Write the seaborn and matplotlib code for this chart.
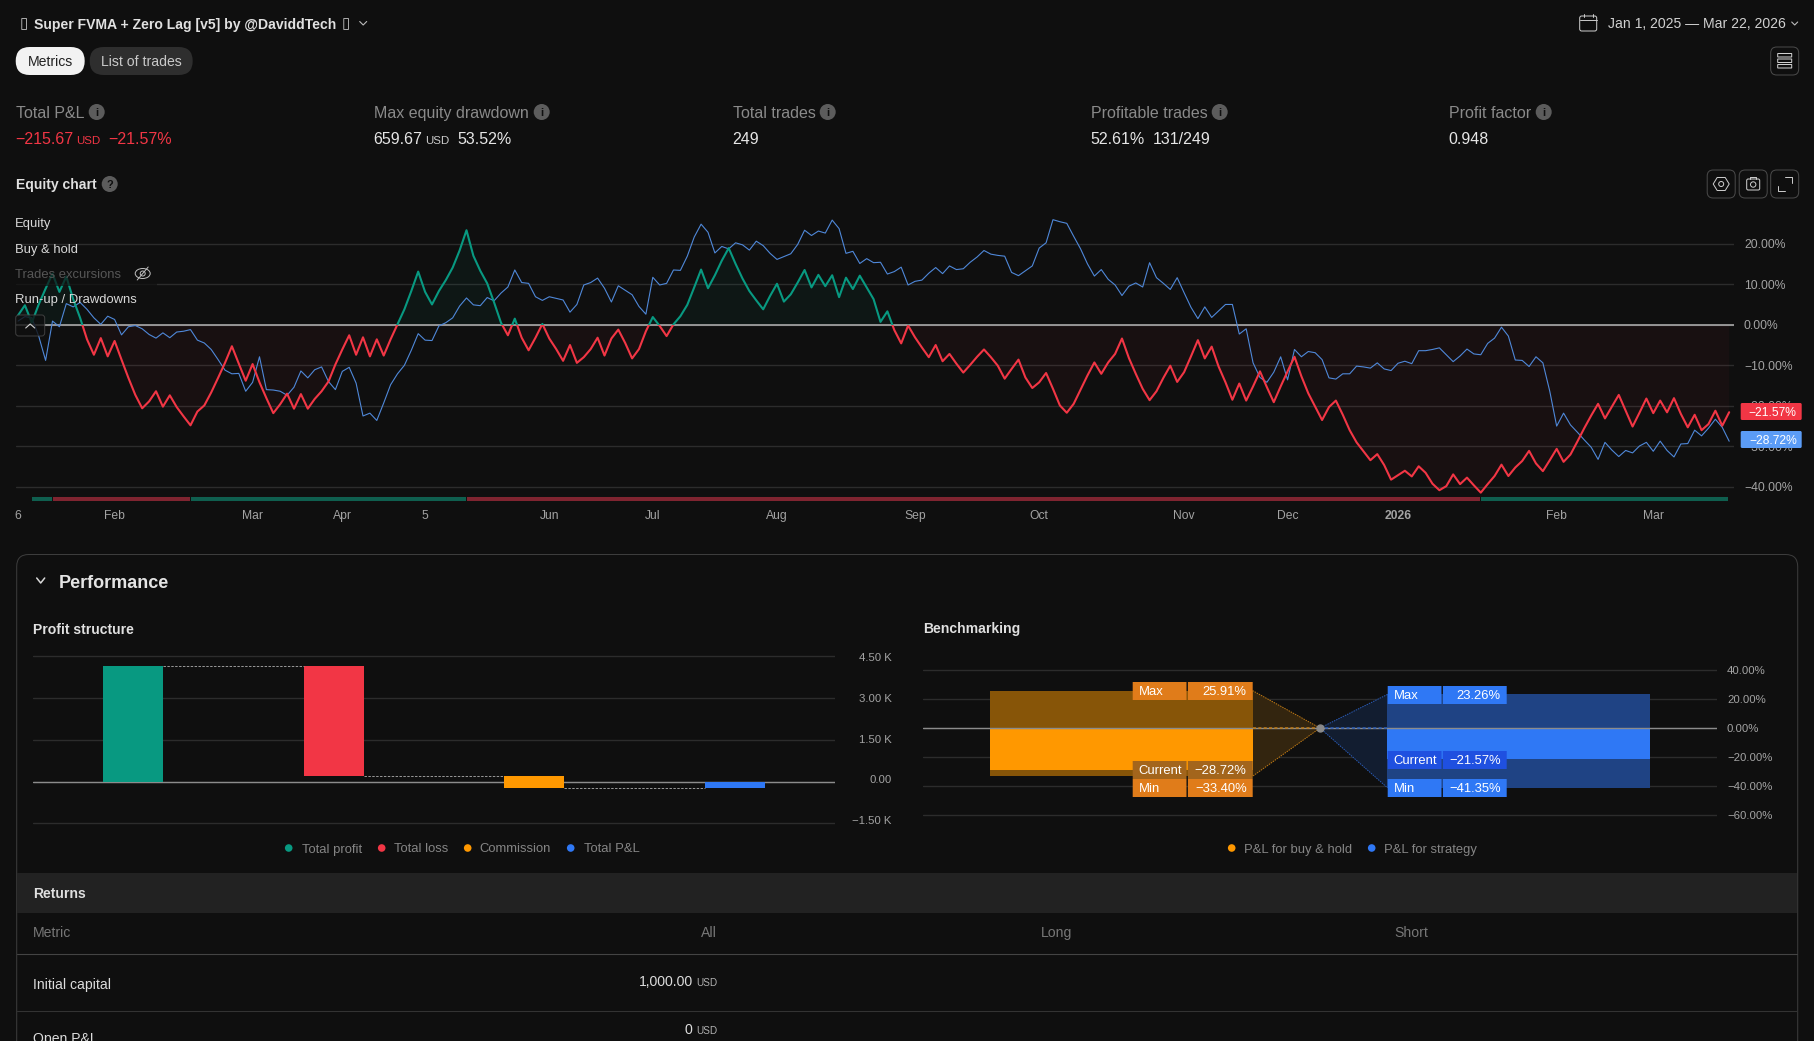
import matplotlib
matplotlib.use("Agg")
import matplotlib.pyplot as plt
from matplotlib.patches import Circle, Ellipse, FancyBboxPatch, Polygon, Rectangle
from matplotlib.transforms import ScaledTranslation
import numpy as np
import seaborn as sns

W, H = 1815, 1041
BG = "#0f0f0f"
RED = "#f23645"
GREEN = "#089981"
ORANGE = "#ff9800"
BLUE = "#2f78f5"
GRID = "#2c2c2c"
DIM = "#a3a3a3"

# equity chart, one value per closed trade (% of initial capital)
equity = [
    2.3, 4.8, 0.5, 5.0, 8.9, 12.6, 8.1, 11.9, 6.3, 1.7,
    -3.6, -7.4, -3.3, -7.8, -4.0, -8.6, -13.1, -17.3, -20.6, -18.9,
    -16.4, -20.2, -17.4, -20.3, -22.6, -24.8, -21.4, -19.9, -16.7, -13.1,
    -9.4, -5.3, -9.6, -13.8, -9.7, -14.2, -18.1, -21.8, -19.6, -17.0,
    -20.7, -17.1, -20.7, -18.3, -16.4, -14.0, -9.8, -6.1, -2.6, -7.4,
    -3.1, -7.8, -3.6, -7.6, -3.6, 0.1, 3.8, 8.3, 13.1, 8.1,
    5.0, 8.3, 11.0, 14.1, 18.3, 23.3, 17.0, 13.3, 10.2, 5.5,
    0.5, -2.6, 1.5, -3.2, -6.3, -3.2, 0.2, -3.4, -6.0, -8.9,
    -5.0, -9.4, -8.0, -6.0, -3.2, -7.6, -3.4, -1.2, -4.5, -8.3,
    -6.0, -1.6, 1.9, -0.3, -2.8, 0.1, 2.1, 4.9, 9.2, 13.6,
    9.0, 12.2, 15.8, 18.9, 15.0, 11.4, 8.3, 6.0, 3.8, 7.1,
    10.1, 5.7, 7.5, 10.4, 13.5, 9.2, 12.3, 9.5, 12.2, 6.8,
    11.6, 8.8, 12.1, 9.2, 6.3, 0.7, 3.3, -1.3, -4.6, -0.2,
    -3.1, -5.6, -8.0, -5.0, -9.0, -7.2, -9.6, -11.8, -9.9, -7.9,
    -6.1, -8.0, -10.1, -13.3, -10.9, -8.6, -13.0, -15.6, -14.2, -11.9,
    -15.8, -19.9, -21.7, -19.5, -16.0, -12.5, -9.3, -12.1, -9.3, -7.2,
    -3.4, -8.2, -12.1, -15.8, -18.6, -16.4, -13.1, -10.1, -14.1, -11.7,
    -7.8, -3.8, -8.3, -5.4, -10.3, -14.2, -18.5, -14.5, -18.7, -15.2,
    -11.5, -15.4, -19.1, -15.2, -11.5, -7.9, -12.7, -16.9, -20.2, -23.5,
    -20.3, -18.7, -22.2, -26.0, -29.0, -31.2, -33.4, -31.9, -34.6, -38.2,
    -37.1, -36.0, -37.4, -34.9, -36.5, -39.2, -40.8, -39.8, -36.9, -39.3,
    -37.7, -39.6, -41.4, -39.3, -37.3, -34.5, -37.3, -35.2, -33.6, -31.1,
    -34.2, -36.1, -33.4, -30.6, -33.8, -32.0, -28.8, -25.5, -22.4, -19.5,
    -23.1, -20.2, -17.3, -21.2, -25.1, -21.7, -18.2, -21.8, -18.7, -21.6,
    -18.1, -22.0, -25.3, -22.2, -26.0, -24.5, -21.2, -24.9, -21.57,
]
buy_hold = [
    0.9, 2.0, 1.7, -2.8, -8.8, 0.9, -0.5, 5.2, 4.4, 5.5,
    3.8, 1.7, 0.1, 2.1, 1.3, -2.5, -0.5, -0.2, -1.0, -2.4,
    -3.3, -2.0, -3.2, -1.8, -1.6, -1.2, -3.8, -4.5, -6.1, -8.6,
    -11.2, -12.1, -12.0, -16.4, -14.2, -7.9, -16.0, -16.1, -16.4, -17.4,
    -15.4, -11.4, -13.1, -11.1, -10.4, -14.0, -16.0, -11.5, -10.5, -14.4,
    -22.5, -21.8, -23.6, -19.3, -14.8, -12.1, -10.0, -6.3, -2.2, -3.8,
    -3.9, -0.3, 0.5, 1.7, 4.6, 6.6, 4.9, 4.7, 6.7, 5.9,
    7.8, 9.3, 13.5, 10.4, 10.2, 6.9, 6.0, 6.9, 6.5, 6.1,
    3.1, 5.0, 9.8, 10.4, 11.5, 9.0, 5.6, 9.6, 8.5, 7.4,
    4.5, 2.6, 11.7, 9.8, 10.2, 13.5, 13.4, 16.9, 21.6, 24.8,
    22.8, 17.7, 19.3, 18.7, 20.2, 19.7, 18.4, 20.6, 19.5, 17.6,
    16.1, 16.8, 17.5, 19.8, 23.3, 22.0, 23.1, 22.6, 25.8, 23.7,
    17.6, 18.1, 15.1, 16.3, 15.3, 15.4, 12.5, 13.1, 14.2, 9.8,
    10.7, 11.0, 12.7, 14.1, 12.6, 14.5, 13.6, 13.8, 15.4, 16.7,
    18.3, 17.4, 17.1, 16.9, 12.9, 12.1, 13.3, 14.5, 18.9, 20.2,
    25.9, 25.4, 25.0, 21.8, 18.7, 15.0, 12.0, 13.6, 11.2, 9.8,
    7.2, 9.5, 10.3, 9.3, 15.3, 11.6, 10.2, 8.7, 11.6, 7.9,
    4.3, 1.5, 4.4, 1.8, 3.4, 5.0, 5.0, -2.3, -1.0, -9.4,
    -13.0, -14.2, -11.7, -7.9, -13.6, -6.1, -7.9, -6.6, -6.9, -8.6,
    -13.1, -13.4, -12.1, -12.1, -10.2, -10.4, -10.7, -9.4, -10.9, -11.3,
    -9.5, -9.0, -9.6, -6.4, -6.4, -6.1, -5.7, -7.4, -9.1, -7.7,
    -6.0, -7.2, -7.4, -4.6, -3.3, -0.6, -2.8, -8.7, -8.8, -10.3,
    -7.9, -9.4, -16.4, -25.0, -21.8, -24.7, -26.5, -28.4, -30.2, -33.2,
    -29.0, -30.9, -32.5, -31.0, -31.6, -29.9, -29.0, -31.2, -28.7, -31.0,
    -32.6, -29.4, -29.3, -26.0, -27.4, -25.5, -23.3, -25.3, -28.72,
]
trade_idx = np.arange(len(equity))
month_idx = [0, 14, 34, 47, 59, 77, 92, 110, 130, 148, 169, 184, 200, 223, 237]
month_labels = ["6", "Feb", "Mar", "Apr", "5", "Jun", "Jul", "Aug", "Sep", "Oct",
                "Nov", "Dec", "2026", "Feb", "Mar"]
equity_ticks = [20, 10, 0, -10, -20, -30, -40]
equity_ticklabels = ["20.00%", "10.00%", "0.00%", "−10.00%", "−20.00%", "−30.00%", "−40.00%"]
# trade numbers where the run-up / drawdown strip changes
run_edges = [2, 5, 25, 65, 212, 248]
run_up = [True, False, True, False, True]

# profit structure
profit_names = ["Total profit", "Total loss", "Commission", "Total P&L"]
profit_heights = [4143, -3927.67, -431.34, -215.67]
profit_bottoms = [0, 4143, 215.33, 0]
profit_ticks = [4500, 3000, 1500, 0, -1500]
profit_ticklabels = ["4.50 K", "3.00 K", "1.50 K", "0.00", "−1.50 K"]

# benchmarking
bench_names = ["P&L for buy & hold", "P&L for strategy"]
bench_max = [25.91, 23.26]
bench_min = [-33.40, -41.35]
bench_current = [-28.72, -21.57]
bench_ticks = [40, 20, 0, -20, -40, -60]
bench_ticklabels = ["40.00%", "20.00%", "0.00%", "−20.00%", "−40.00%", "−60.00%"]

sns.set_theme(style="dark", rc={"figure.facecolor": BG, "axes.facecolor": BG,
                                "axes.edgecolor": BG, "savefig.facecolor": BG})
plt.rcParams["font.family"] = ["Liberation Sans", "DejaVu Sans"]


def axes_px(left, top, right, bottom):
    ax = fig.add_axes([left / W, 1 - bottom / H, (right - left) / W, (bottom - top) / H])
    sns.despine(ax=ax, left=True, bottom=True)
    return ax


def label(x, y, s, px=13, color="#d8d8d8", weight="normal", ha="left", **kw):
    ui.text(x, y, s, fontsize=px * 0.72, color=color, fontweight=weight, ha=ha,
            va="center_baseline", **kw)


def box(left, top, right, bottom, radius=0, face="none", edge="none", lw=1.0, **kw):
    ui.add_patch(FancyBboxPatch((left, top), right - left, bottom - top,
                                boxstyle=f"round,pad=0,rounding_size={radius}",
                                fc=face, ec=edge, lw=lw * 0.72, **kw))


def info(x, y, s="i", r=8):
    ui.add_patch(Circle((x, y), r, fc="#5c5c5c", ec="none"))
    label(x, y, s, px=11, color=BG, weight="bold", ha="center")


fig = plt.figure(figsize=(W / 100, H / 100), dpi=100)

# ---- equity chart
ax_eq = axes_px(16, 199, 1734, 504)
x_eq = np.array(trade_idx)
y_eq = np.array(equity)
ax_eq.set_yticks(equity_ticks, equity_ticklabels)
ax_eq.set_xticks(month_idx, month_labels)
ax_eq.yaxis.tick_right()
ax_eq.grid(axis="y", color=GRID, lw=1.0)
ax_eq.grid(axis="x", visible=False)
ax_eq.axhline(0, color="#b5b5b5", lw=1.1, zorder=1.5)
ax_eq.fill_between(x_eq, y_eq, 0, where=y_eq >= 0, interpolate=True, color=GREEN, alpha=0.06, lw=0)
ax_eq.fill_between(x_eq, y_eq, 0, where=y_eq <= 0, interpolate=True, color=RED, alpha=0.045, lw=0)

sns.lineplot(x=trade_idx, y=buy_hold, color="#4f88d9", linewidth=0.8, ax=ax_eq, zorder=3)
for col, clip_box in ((GREEN, (0, 60)), (RED, (-60, 60))):
    sns.lineplot(x=trade_idx, y=equity, color=col, linewidth=1.5, ax=ax_eq, zorder=4)
    ax_eq.lines[-1].set_clip_path(Rectangle((-10, clip_box[0]), 300, clip_box[1],
                                            transform=ax_eq.transData))
ax_eq.set_xlim(-0.29, 248.7)
ax_eq.set_ylim(-44.2, 31.0)
for a, b, up in zip(run_edges[:-1], run_edges[1:], run_up):
    ax_eq.hlines(-42.9, a + 0.1, b - 0.1, color="#0f5f4f" if up else "#7f2430", lw=2.9,
                 capstyle="butt")
ax_eq.tick_params(axis="y", length=0, pad=7.2, labelsize=8.7, labelcolor=DIM)
ax_eq.tick_params(axis="x", length=0, pad=4.5, labelsize=8.7, labelcolor=DIM)
for t in ax_eq.get_xticklabels():
    if t.get_text() == "2026":
        t.set_fontweight("bold")

# ---- profit structure
ax_p = axes_px(33, 649.3, 835, 829.3)
sns.barplot(x=profit_names, y=profit_heights, bottom=profit_bottoms, width=0.3, color=GREEN,
            saturation=1, linewidth=0, ax=ax_p, zorder=3)
for patch, col in zip(ax_p.patches, (GREEN, RED, ORANGE, BLUE)):
    patch.set_facecolor(col)
    patch.set_edgecolor("none")
ax_p.set_xlim(-0.5, 3.5)
ax_p.set_ylim(-1714, 4753)
ax_p.set_xlabel("")
ax_p.set_ylabel("")
ax_p.set_xticks([])
ax_p.set_yticks(profit_ticks, profit_ticklabels)
ax_p.yaxis.tick_right()
ax_p.grid(axis="y", color=GRID, lw=1.0)
ax_p.axhline(0, color="#8c8c8c", lw=1.0, zorder=2)
ax_p.tick_params(axis="y", length=0, pad=40.7, labelsize=8.2, labelcolor=DIM)
# the labels of this axis sit a little off their gridlines in the reference
for t, nudge in zip(ax_p.get_yticklabels(), (-1, 0, 1, 2.5, 3.5)):
    t.set_ha("right")
    t.set_transform(t.get_transform() + ScaledTranslation(0, nudge / 100, fig.dpi_scale_trans))
for i, level in enumerate([profit_heights[0], profit_bottoms[2], profit_heights[3]]):
    ax_p.hlines(level, i + 0.15, i + 0.85, color="#9a9a9a", lw=0.7, linestyles=(0, (2.5, 1.5)),
                zorder=4)

# ---- benchmarking
ax_b = axes_px(923, 664, 1717, 824)
bench_span = [hi - lo for hi, lo in zip(bench_max, bench_min)]
sns.barplot(x=bench_names, y=bench_span, bottom=bench_min, width=0.66, color=ORANGE,
            saturation=1, linewidth=0, ax=ax_b, zorder=3)
for patch, col in zip(ax_b.patches, ("#875508", "#1f4384")):
    patch.set_facecolor(col)
    patch.set_edgecolor("none")
sns.barplot(x=bench_names, y=bench_current, width=0.66, color=ORANGE, saturation=1, linewidth=0,
            ax=ax_b, zorder=3)
for patch, col in zip(ax_b.patches[2:], (ORANGE, BLUE)):
    patch.set_facecolor(col)
    patch.set_edgecolor("none")
ax_b.set_xlim(-0.5, 1.5)
ax_b.set_ylim(-66.4, 44.3)
ax_b.set_xlabel("")
ax_b.set_ylabel("")
ax_b.set_xticks([])
ax_b.set_yticks(bench_ticks, bench_ticklabels)
ax_b.yaxis.tick_right()
ax_b.grid(axis="y", color=GRID, lw=1.0)
ax_b.axhline(0, color="#8c8c8c", lw=1.0, zorder=3.5)
ax_b.tick_params(axis="y", length=0, pad=7.2, labelsize=8.2, labelcolor=DIM)
for edge_x, hi, lo, col, fill in ((0.33, bench_max[0], bench_min[0], "#c07a14", "#33250f"),
                                  (0.67, bench_max[1], bench_min[1], "#2a5cb8", "#121d30")):
    ax_b.add_patch(Polygon([(edge_x, hi), (0.5, 0), (edge_x, lo)], fc=fill, ec="none", zorder=2.5))
    ax_b.plot([edge_x, 0.5, edge_x], [hi, 0, lo], color=col, lw=0.7, ls=(0, (1.5, 1)), zorder=4)
    ax_b.plot([edge_x, 0.5], [0, 0], color=col, lw=1.1, ls=(0, (2, 1.5)), zorder=4)
ax_b.plot([0.5], [0], "o", ms=5, color="#8a8a8a", zorder=5)

# ---- page furniture in pixel coordinates, on top of the charts
ui = fig.add_axes([0, 0, 1, 1], zorder=5)
ui.set_xlim(0.3, W + 0.3)
ui.set_ylim(H + 1, 1)
ui.axis("off")

label(20, 24, "\u25af", px=15, color="#c8c8c8")
label(34, 24, "Super FVMA + Zero Lag [v5] by @DaviddTech", px=14, color="#e0e0e0", weight="bold")
label(342, 24, "\u25af", px=15, color="#c8c8c8")
ui.plot([360, 363.5, 367], [22.5, 26, 22.5], color="#bbbbbb", lw=0.8)

box(16, 48, 85, 76, radius=14, face="#f2f2f2")
label(50.5, 62, "Metrics", px=14, color="#222222", ha="center")
box(90, 48, 193, 76, radius=14, face="#2e2e2e")
label(141.5, 62, "List of trades", px=14, color="#c9c9c9", ha="center")

for x, name, ix in ((16, "Total P&L", 97), (374, "Max equity drawdown", 542), (733, "Total trades", 828),
                    (1091, "Profitable trades", 1220), (1449, "Profit factor", 1544)):
    label(x, 113, name, px=16, color="#8a8a8a")
    info(ix, 113, "i")
label(16, 139, "−215.67", px=16, color=RED)
label(76, 141, "USD", px=11.5, color=RED)
label(109, 139, "−21.57%", px=16, color=RED)
label(374, 139, "659.67", px=16, color="#e6e6e6")
label(425, 141, "USD", px=11.5, color="#cccccc")
label(457.5, 139, "53.52%", px=16, color="#e6e6e6")
label(733, 139, "249", px=16, color="#e6e6e6")
label(1091, 139, "52.61%", px=16, color="#e6e6e6")
label(1153, 139, "131/249", px=16, color="#e6e6e6")
label(1449, 139, "0.948", px=16, color="#e6e6e6")

label(16, 185, "Equity chart", px=14, color="#e0e0e0", weight="bold")
info(110, 185, "?")

# date picker and toolbar icons
box(1580, 17, 1597, 32, radius=2, edge="#cccccc")
ui.plot([1580, 1597], [20.5, 20.5], color="#cccccc", lw=0.7)
ui.plot([1584, 1584], [15, 18], color="#cccccc", lw=0.7)
ui.plot([1593, 1593], [15, 18], color="#cccccc", lw=0.7)
label(1608, 24, "Jan 1, 2025 — Mar 22, 2026", px=14, color="#d0d0d0")
ui.plot([1792, 1795, 1798], [23, 26, 23], color="#bbbbbb", lw=0.8)

box(1771, 48, 1799, 76, radius=6, edge="#4a4a4a")
for top in (54.5, 60, 65.5):
    box(1778, top, 1792, top + 3.5, edge="#d0d0d0")

for left in (1707.5, 1739.5, 1771):
    box(left, 171, left + 28, 199, radius=6, edge="#4a4a4a")
ui.add_patch(Polygon([(1713.5, 185), (1717.5, 178.5), (1725.5, 178.5), (1729.5, 185), (1725.5, 191.5), (1717.5, 191.5)],
                     fc="none", ec="#d0d0d0", lw=0.7))
ui.add_patch(Circle((1721.5, 185), 2.5, fc="none", ec="#d0d0d0", lw=0.7))
box(1747, 180, 1760, 191, radius=1.5, edge="#d0d0d0")
ui.plot([1750.5, 1750.5, 1756.5, 1756.5], [180, 178, 178, 180], color="#d0d0d0", lw=0.7)
ui.add_patch(Circle((1753.5, 185.5), 2.7, fc="none", ec="#d0d0d0", lw=0.7))
ui.plot([1785.5, 1792.5, 1792.5], [178, 178, 183.5], color="#d0d0d0", lw=0.7)
ui.plot([1778.5, 1778.5, 1785.5], [186.5, 191.5, 191.5], color="#d0d0d0", lw=0.7)

# equity chart legend
ui.add_patch(Rectangle((15, 262), 142, 25, fc=BG, ec="none", alpha=0.7))
label(15, 224, "Equity", px=13)
label(15, 249, "Buy & hold", px=13)
label(15, 274, "Trades excursions", px=13, color="#565656")
label(15, 299, "Run-up / Drawdowns", px=13)
ui.add_patch(Ellipse((143, 274.5), 15, 10, fc="none", ec="#c0c0c0", lw=0.7))
ui.add_patch(Circle((143, 274.5), 2.5, fc="none", ec="#c0c0c0", lw=0.7))
ui.plot([137.5, 148.5], [281, 268], color="#c0c0c0", lw=0.7)
box(16, 316, 45, 337, radius=3, face=BG, edge="#4a4a4a", alpha=0.8)
ui.plot([26, 30.5, 35], [329, 325, 329], color="#d0d0d0", lw=0.8)

# last value badges
box(1741, 404, 1802, 421, radius=1.5, face=RED)
label(1797, 412.5, "−21.57%", px=12, color="#ffffff", ha="right")
box(1741, 432, 1802, 449, radius=1.5, face="#5b9cf6")
label(1797, 440.5, "−28.72%", px=12, color="#ffffff", ha="right")

# performance panel
box(17, 555.5, 1798, 1120, radius=12, edge="#3d3d3d")
ui.plot([37, 41, 45], [579, 584, 579], color="#d8d8d8", lw=1.1)
label(59.5, 582, "Performance", px=18, color="#e4e4e4", weight="bold")
label(33, 629, "Profit structure", px=14, color="#e0e0e0", weight="bold")
label(923, 629, "Benchmarking", px=14, color="#e0e0e0", weight="bold")

for dot_x, text_x, name, col in zip((289, 382, 468, 571), (302, 394, 480, 584), profit_names,
                                    (GREEN, RED, ORANGE, BLUE)):
    ui.add_patch(Circle((dot_x, 849), 3.8, fc=col, ec="none"))
    label(text_x, 849, name, px=13, color="#858585")
for dot_x, text_x, name, col in zip((1232, 1372), (1244, 1384), bench_names, (ORANGE, BLUE)):
    ui.add_patch(Circle((dot_x, 849), 3.8, fc=col, ec="none"))
    label(text_x, 849, name, px=13, color="#858585")

# value cards on the benchmark bars
for left, mid, right, cards in (
    (1133, 1187.5, 1253, (("Max", "25.91%", 683, "#e07c1a", "#e07c1a"),
                          ("Current", "−28.72%", 762, "#a3651c", "#a3651c"),
                          ("Min", "−33.40%", 780, "#e07c1a", "#e07c1a"))),
    (1388, 1442.5, 1507, (("Max", "23.26%", 687, BLUE, BLUE),
                          ("Current", "−21.57%", 752, "#1f50e0", "#1f50e0"),
                          ("Min", "−41.35%", 780, BLUE, BLUE))),
):
    for name, value, top, c1, c2 in cards:
        box(left, top, mid - 0.7, top + 18, face=c1)
        box(mid + 0.7, top, right, top + 18, face=c2)
        label(left + 6, top + 8.5, name, px=13, color="#ffffff")
        label(right - 6, top + 8.5, value, px=13, color="#ffffff", ha="right")

# returns table
ui.add_patch(Rectangle((17.5, 874), 1780, 40, fc="#222222", ec="none"))
label(33, 893, "Returns", px=14, color="#e0e0e0", weight="bold")
label(33, 932.5, "Metric", px=14, color="#777777")
for right, name in ((717.5, "All"), (1073, "Long"), (1429, "Short")):
    label(right, 932.5, name, px=14, color="#777777", ha="right")
ui.plot([17.5, 1797.5], [955, 955], color="#444444", lw=0.8)
ui.plot([17.5, 1797.5], [1012, 1012], color="#333333", lw=0.8)
label(33, 984, "Initial capital", px=14, color="#dcdcdc")
label(693, 982, "1,000.00", px=14, color="#dcdcdc", ha="right")
label(717.5, 983.5, "USD", px=10, color="#b0b0b0", ha="right")
label(33, 1038, "Open P&L", px=14, color="#dcdcdc")
label(693, 1030, "0", px=14, color="#dcdcdc", ha="right")
label(717.5, 1031.5, "USD", px=10, color="#b0b0b0", ha="right")

fig.savefig("out.png", dpi=100)
